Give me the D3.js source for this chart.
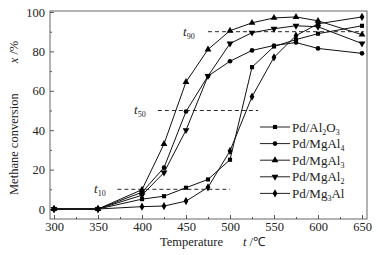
<!DOCTYPE html>
<html>
<head>
<meta charset="utf-8">
<script src="https://cdn.jsdelivr.net/npm/d3@7"></script>
<style>
  body { margin: 0; background: #fff; }
  svg { display: block; }
  svg text { font-family: "Liberation Serif", "Times New Roman", serif; }
</style>
</head>
<body>
<svg width="378" height="255"></svg>
<script>
let temps = [300, 350, 400, 425, 450, 475, 500, 525, 550, 575, 600, 650];
let al2o3  = [0, 0, 5.0, 6.5, 10.8, 15.0, 25.0, 72.0, 82.5, 86.0, 89.0, 93.0];
let mgal4  = [0, 0, 8.5, 21.0, 49.5, 67.5, 75.0, 80.5, 83.0, 84.5, 81.5, 79.0];
let mgal3  = [0, 0, 9.8, 33.0, 64.5, 81.0, 90.5, 94.5, 97.0, 97.5, 95.5, 88.5];
let mgal2  = [0, 0, 7.0, 18.5, 40.0, 67.5, 84.0, 89.5, 91.5, 93.0, 92.5, 84.0];
let mg3al  = [0, 0, 1.2, 1.5, 4.0, 11.0, 29.5, 57.0, 77.0, 88.0, 94.0, 97.5];
let seriesNames = [["Pd/Al", "2", "O", "3"], ["Pd/MgAl", "4"], ["Pd/MgAl", "3"], ["Pd/MgAl", "2"], ["Pd/Mg", "3", "Al"]];
let xTicks = [300, 350, 400, 450, 500, 550, 600, 650];
let yTicks = [0, 20, 40, 60, 80, 100];
// reference lines t10, t50, t90: [level, from, to]
let refLines = [[10, 372, 500], [50, 418, 532], [90, 475, 652]];

let series = [al2o3, mgal4, mgal3, mgal2, mg3al];
let symbols = ["square", "circle", "up", "down", "diamond"];

let svg = d3.select("svg");
let frame = {left: 50, right: 367, top: 11, bottom: 219};

let x = d3.scaleLinear().domain([300, 650]).range([54, 362]);
let y = d3.scaleLinear().domain([0, 100]).range([209, 12]);

let shapes = {
	square: [d3.symbolSquare, 17, 0],
	circle: [d3.symbolCircle, 17, 0],
	up: [d3.symbolTriangle, 20, 0],
	down: [d3.symbolTriangle, 20, 180],
	diamond: [d3.symbolDiamond, 20, 0]
};
let drawMarker = (g, px, py, s) => {
	let [type, size, rot] = shapes[s];
	g.append("path")
		.attr("d", d3.symbol(type, size))
		.attr("transform", `translate(${px},${py}) rotate(${rot})`)
		.attr("fill", "#000");
};

// frame
svg.append("rect")
	.attr("x", frame.left).attr("y", frame.top)
	.attr("width", frame.right - frame.left).attr("height", frame.bottom - frame.top)
	.attr("fill", "none").attr("stroke", "#666").attr("stroke-width", 1);

let styleText = g => g.selectAll("text")
	.style("font-family", "'Liberation Serif', 'Times New Roman', serif")
	.style("font-size", "12.5px").attr("fill", "#222");

// bottom axis, ticks inside
svg.append("g")
	.attr("transform", `translate(0,${frame.bottom})`)
	.call(d3.axisBottom(x).tickValues(xTicks).tickSize(-4).tickPadding(3).tickSizeOuter(0))
	.call(g => g.select(".domain").remove())
	.call(g => g.selectAll(".tick line").attr("stroke", "#555"))
	.call(styleText);
svg.append("g")
	.attr("transform", `translate(0,${frame.bottom})`)
	.call(d3.axisBottom(x).tickValues(d3.range(325, 650, 50)).tickSize(-2).tickFormat(""))
	.call(g => g.select(".domain").remove())
	.call(g => g.selectAll(".tick line").attr("stroke", "#555"));

// left axis, ticks inside
svg.append("g")
	.attr("transform", `translate(${frame.left},0)`)
	.call(d3.axisLeft(y).tickValues(yTicks).tickSize(-4).tickPadding(5))
	.call(g => g.select(".domain").remove())
	.call(g => g.selectAll(".tick line").attr("stroke", "#555"))
	.call(styleText);
svg.append("g")
	.attr("transform", `translate(${frame.left},0)`)
	.call(d3.axisLeft(y).tickValues(d3.range(10, 100, 20)).tickSize(-2).tickFormat(""))
	.call(g => g.select(".domain").remove())
	.call(g => g.selectAll(".tick line").attr("stroke", "#555"));

// dashed reference lines
svg.append("g").selectAll("line").data(refLines).enter().append("line")
	.attr("x1", d => x(d[1])).attr("x2", d => x(d[2]))
	.attr("y1", d => y(d[0])).attr("y2", d => y(d[0]))
	.attr("stroke", "#111").attr("stroke-width", 0.9).attr("stroke-dasharray", "4,3");

// t labels
let tLabels = [["10", 94, 193], ["50", 134, 114], ["90", 183, 36]];
tLabels.forEach(([sub, lx, ly]) => {
	let t = svg.append("text").attr("x", lx).attr("y", ly)
		.style("font-size", "13px").attr("fill", "#222");
	t.append("tspan").style("font-style", "italic").text("t");
	t.append("tspan").style("font-size", "8px").attr("dy", 3).text(sub);
});

// series lines + markers
let line = d3.line().x((d, i) => x(temps[i])).y(d => y(d));
series.forEach((vals, k) => {
	svg.append("path").datum(vals)
		.attr("d", line).attr("fill", "none")
		.attr("stroke", "#111").attr("stroke-width", 1);
	let g = svg.append("g");
	vals.forEach((v, i) => drawMarker(g, x(temps[i]), y(v), symbols[k]));
});

// legend
let legend = svg.append("g");
seriesNames.forEach((parts, k) => {
	let ly = 127 + k * 16.6;
	legend.append("line").attr("x1", 260).attr("x2", 290).attr("y1", ly).attr("y2", ly)
		.attr("stroke", "#222").attr("stroke-width", 1);
	drawMarker(legend, 275, ly, symbols[k]);
	let t = legend.append("text").attr("x", 292).attr("y", ly + 4.5)
		.style("font-size", "13px").attr("fill", "#222");
	parts.forEach((p, j) => {
		let sub = j % 2 === 1;
		t.append("tspan").style("font-size", sub ? "8px" : "13px")
			.attr("dy", sub ? 3 : (j > 0 ? -3 : 0)).text(p);
	});
});

// axis titles
let xt = svg.append("text").attr("x", 160).attr("y", 246).style("font-size", "12.5px").attr("fill", "#222");
xt.append("tspan").text("Temperature");
xt.append("tspan").attr("dx", 20).style("font-style", "italic").text("t");
xt.append("tspan").text(" /℃");

let yt = svg.append("text").attr("transform", "translate(18,195) rotate(-90)")
	.style("font-size", "12.5px").attr("fill", "#222");
yt.append("tspan").text("Methane conversion");
yt.append("tspan").attr("dx", 30).style("font-style", "italic").text("x");
yt.append("tspan").text(" /%");
</script>
</body>
</html>
